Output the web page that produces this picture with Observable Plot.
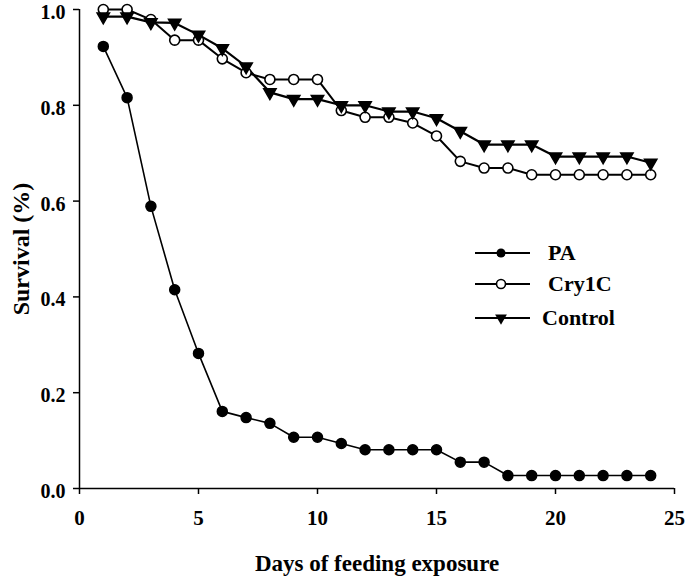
<!DOCTYPE html>
<html>
<head>
<meta charset="utf-8">
<script src="https://cdn.jsdelivr.net/npm/d3@7"></script>
<script src="https://cdn.jsdelivr.net/npm/@observablehq/plot@0.6"></script>
<style>
  body { margin: 0; background: #fff; }
  #wrap { position: relative; width: 685px; height: 580px; font-family: "Liberation Serif", "Times New Roman", serif; }
  .leg { position: absolute; display: flex; align-items: center; font-weight: bold; font-size: 22px; color: #000; }
  .leg svg { margin-right: 18px; }
</style>
</head>
<body>
<div id="wrap"></div>
<script>
const days = [1,2,3,4,5,6,7,8,9,10,11,12,13,14,15,16,17,18,19,20,21,22,23,24];
const seriesNames = ["PA", "Cry1C", "Control"];
const paVals = [0.923,0.816,0.589,0.415,0.282,0.161,0.148,0.136,0.107,0.107,0.094,0.081,0.081,0.081,0.081,0.055,0.055,0.027,0.027,0.027,0.027,0.027,0.027,0.027];
const cryVals = [1.0,1.0,0.979,0.936,0.936,0.897,0.868,0.854,0.854,0.854,0.789,0.775,0.775,0.763,0.736,0.683,0.669,0.669,0.655,0.655,0.655,0.655,0.655,0.655];
const ctrlVals = [0.985,0.985,0.973,0.972,0.947,0.919,0.881,0.827,0.813,0.813,0.800,0.800,0.787,0.787,0.773,0.746,0.718,0.718,0.718,0.693,0.693,0.693,0.693,0.680];
const xTicks = [0,5,10,15,20,25];
const yTicks = [0,0.2,0.4,0.6,0.8,1.0];

const pa = days.map((d,i) => ({day: d, v: paVals[i]}));
const cry = days.map((d,i) => ({day: d, v: cryVals[i]}));
const ctrl = days.map((d,i) => ({day: d, v: ctrlVals[i]}));

const font = `"Liberation Serif", "Times New Roman", serif`;

const chart = Plot.plot({
  width: 685,
  height: 580,
  marginLeft: 79,
  marginRight: 11,
  marginTop: 9,
  marginBottom: 92,
  style: {fontFamily: font, fontWeight: "bold", background: "#fff", color: "#000"},
  x: {domain: [0,25]},
  y: {domain: [0,1]},
  marks: [
    Plot.axisX({ticks: xTicks, tickSize: 6, tickPadding: 16, fontSize: 21, tickFormat: d3.format("d"), label: null, strokeWidth: 1.5}),
    Plot.axisY({ticks: yTicks, tickSize: 6, tickFormat: () => "", label: null, strokeWidth: 1.5}),
    Plot.axisY({ticks: yTicks, tickSize: 0, tickPadding: 14, fontSize: 20, dy: 3, tickFormat: d3.format(".1f"), label: null}),
    Plot.axisX({ticks: [], label: "Days of feeding exposure", labelAnchor: "center", labelArrow: "none", labelOffset: 82, fontSize: 23, tickSize: 0}),
    Plot.axisY({ticks: [], label: "Survival (%)", labelAnchor: "center", labelArrow: "none", labelOffset: 68, fontSize: 24, tickSize: 0}),
    Plot.ruleX([0], {stroke: "#000", strokeWidth: 1.5}),
    Plot.ruleY([0], {stroke: "#000", strokeWidth: 1.5}),
    Plot.line(pa, {x: "day", y: "v", stroke: "#000", strokeWidth: 1.6}),
    Plot.line(cry, {x: "day", y: "v", stroke: "#000", strokeWidth: 2}),
    Plot.line(ctrl, {x: "day", y: "v", stroke: "#000", strokeWidth: 2.2}),
    Plot.dot(pa, {x: "day", y: "v", r: 5, fill: "#000", stroke: "#000"}),
    Plot.dot(cry, {x: "day", y: "v", r: 5, fill: "#fff", stroke: "#000", strokeWidth: 1.6}),
    Plot.dot(ctrl, {x: "day", y: "v", r: 4.6, symbol: "triangle", rotate: 180, fill: "#000", stroke: "#000"})
  ]
});

const wrap = document.getElementById("wrap");
wrap.appendChild(chart);

// Legend
const legendRows = [
  {name: seriesNames[0], top: 241, left: 475, kind: "filled"},
  {name: seriesNames[1], top: 272, left: 475, kind: "open"},
  {name: seriesNames[2], top: 306, left: 475, kind: "tri"}
];
for (const row of legendRows) {
  const div = document.createElement("div");
  div.className = "leg";
  div.style.top = row.top + "px";
  div.style.left = row.left + "px";
  div.style.height = "24px";
  const sw = d3.create("svg").attr("width", 55).attr("height", 24);
  sw.append("line").attr("x1", 0).attr("x2", 55).attr("y1", 12).attr("y2", 12).attr("stroke", "#000").attr("stroke-width", 2);
  if (row.kind === "filled") sw.append("circle").attr("cx", 26).attr("cy", 12).attr("r", 4.5).attr("fill", "#000");
  else if (row.kind === "open") sw.append("circle").attr("cx", 26).attr("cy", 12).attr("r", 4.5).attr("fill", "#fff").attr("stroke", "#000").attr("stroke-width", 1.6);
  else sw.append("path").attr("transform", "translate(26,12) rotate(180)").attr("d", d3.symbol(d3.symbolTriangle, 60)()).attr("fill", "#000");
  div.appendChild(sw.node());
  const t = document.createElement("span");
  t.textContent = row.name;
  if (row.kind === "tri") t.style.marginLeft = "-6px";
  div.appendChild(t);
  wrap.appendChild(div);
}
</script>
</body>
</html>
